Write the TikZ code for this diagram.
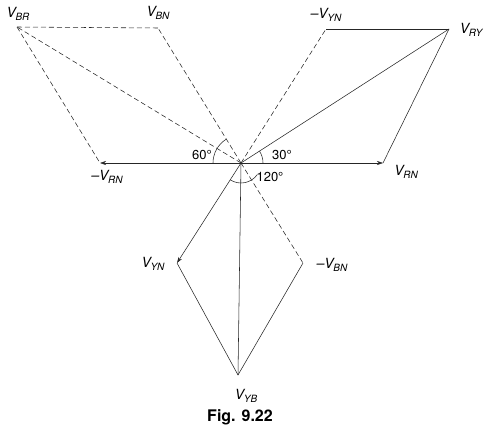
\documentclass[tikz,border=0pt]{standalone}
\usepackage{fontspec}
\setmainfont{TeX Gyre Heros}
\usetikzlibrary{arrows.meta}
\newcommand{\vl}[1]{\textit{V}\kern-0.3pt\raisebox{-0.45ex}{\fontsize{10}{10}\selectfont\itshape #1}}
\begin{document}
\begin{tikzpicture}[x=1pt,y=-1pt,
  ln/.style={line width=0.55pt, black!85},
  dsh/.style={ln, dash pattern=on 5pt off 3pt},
  arr/.style={-{Stealth[length=6pt,width=4pt]}},
  lbl/.style={font=\fontsize{14}{14}\selectfont\itshape, inner sep=0pt},
  ang/.style={font=\fontsize{13}{13}\selectfont, inner sep=0pt}]
\useasboundingbox (0,0) rectangle (498,433);
\coordinate (O) at (241,163);
\coordinate (RN) at (383,163);
\coordinate (mRN) at (100,163);
\coordinate (RY) at (449,29);
\coordinate (mYN) at (326,29);
\coordinate (BR) at (17,27);
\coordinate (BN) at (158,28);
\coordinate (YN) at (177,263);
\coordinate (mBN) at (303,263);
\coordinate (YB) at (238,375);
% phasors
\draw[ln,arr] (O) -- (RN);
\draw[ln,arr] (O) -- (mRN);
\draw[ln,arr] (O) -- (YN);
\draw[ln] (O) -- (RY);
\draw[ln] (O) -- (YB);
\draw[dsh] (O) -- (mYN);
\draw[dsh] (O) -- (BN);
\draw[dsh] (O) -- (BR);
\draw[dsh] (O) -- (mBN);
% parallelogram sides
\draw[ln] (mYN) -- (RY);
\draw[ln] (RY) -- (RN);
\draw[dsh] (BR) -- (BN);
\draw[dsh] (BR) -- (mRN);
\draw[ln] (YN) -- (YB);
\draw[ln] (mBN) -- (YB);
% angle arcs
\draw[ln] (O) ++(-28,0) arc[start angle=-180, end angle=-122, radius=28];
\draw[ln] (O) ++(22,0) arc[start angle=0, end angle=-33, radius=22];
\draw[ln] (O) ++(122.6:20) arc[start angle=122.6, end angle=35, radius=20];
% labels
\node[lbl] (lBR) at (18,14) {\vl{BR}};
\node[lbl] (lBN) at (158,13) {\vl{BN}};
\node[lbl] (lmYN) at (326,15) {–\vl{YN}};
\node[lbl] (lRY) at (471,30) {\vl{RY}};
\node[lbl] (lmRN) at (107,177) {–\vl{RN}};
\node[lbl] (lRN) at (406,172) {\vl{RN}};
\node[lbl] (lYN) at (153,264) {\vl{YN}};
\node[lbl] (lmBN) at (332,265) {–\vl{BN}};
\node[lbl] (lYB) at (246,396) {\vl{YB}};
\node[ang] (a60) at (202,155) {60°};
\node[ang] (a30) at (282,155) {30°};
\node[ang] (a120) at (270,177) {120°};
\node[font=\fontsize{16}{16}\selectfont\bfseries, inner sep=0pt] (fig) at (240,417) {Fig. 9.22};
\end{tikzpicture}
\end{document}
